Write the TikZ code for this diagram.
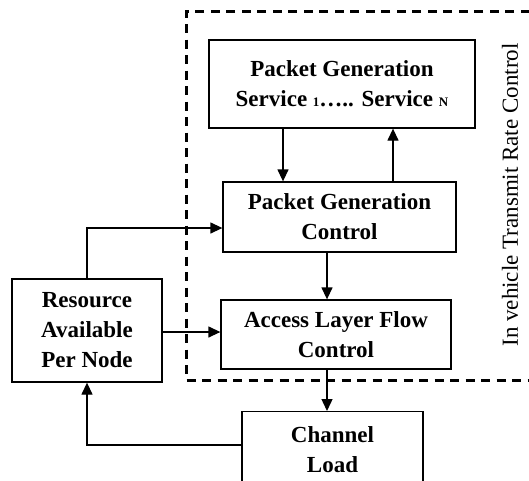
\documentclass[tikz,border=0pt]{standalone}
\usepackage{fontspec}
\setmainfont{Liberation Serif}
\usetikzlibrary{arrows.meta}
\tikzset{
  blk/.style={draw=black, line width=1.3pt, fill=white, inner sep=0pt, align=center,
    font=\bfseries\fontsize{23}{30}\selectfont},
  conn/.style={line width=1.3pt, -{Triangle[length=12pt,width=11pt]}},
  region/.style={line width=3pt, dash pattern=on 9pt off 6.5pt}
}
\newcommand{\smallsz}[1]{{\fontsize{13}{30}\selectfont #1}}
\begin{document}
\begin{tikzpicture}[x=1pt,y=-1pt]
\useasboundingbox (0,0) rectangle (529,480);
\clip (0,0) rectangle (529,480);
\fill[white] (0,0) rectangle (529,480);
% dashed region
\draw[region] (545,11) -- (186,11) -- (186,380) -- (545,380);
\node[rotate=90, font=\fontsize{23}{28}\selectfont] (lbl) at (510,195) {In vehicle Transmit Rate Control};
% boxes
\node[blk, minimum width=266pt, minimum height=88pt] (pgs) at (342,84)
  {Packet Generation\\Service \smallsz{1}….. Service \smallsz{N}};
\node[blk, minimum width=233pt, minimum height=70pt] (pgc) at (339.5,217)
  {Packet Generation\\Control};
\node[blk, minimum width=230pt, minimum height=69pt] (alfc) at (336,334.5)
  {Access Layer Flow\\Control};
\node[blk, minimum width=150pt, minimum height=103pt] (res) at (87,330.5)
  {Resource\\Available\\Per Node};
\node[blk, minimum width=181pt, minimum height=76pt, anchor=north] (cl) at (332.5,411)
  {Channel\\Load};
% helper coordinates
\coordinate (a1) at (87,228);
\coordinate (a2) at (87,445);
% connectors
\draw[conn] (pgs.south -| 283,0) -- (pgc.north -| 283,0);
\draw[conn] (pgc.north -| 393,0) -- (pgs.south -| 393,0);
\draw[conn] (res.north) -- (a1) -- (a1 -| pgc.west);
\draw[conn] (res.east |- 0,332) -- (alfc.west |- 0,332);
\draw[conn] (pgc.south -| 327,0) -- (alfc.north -| 327,0);
\draw[conn] (alfc.south -| 327,0) -- (cl.north -| 327,0);
\draw[conn] (cl.west |- a2) -- (a2) -- (res.south);
\end{tikzpicture}
\end{document}
